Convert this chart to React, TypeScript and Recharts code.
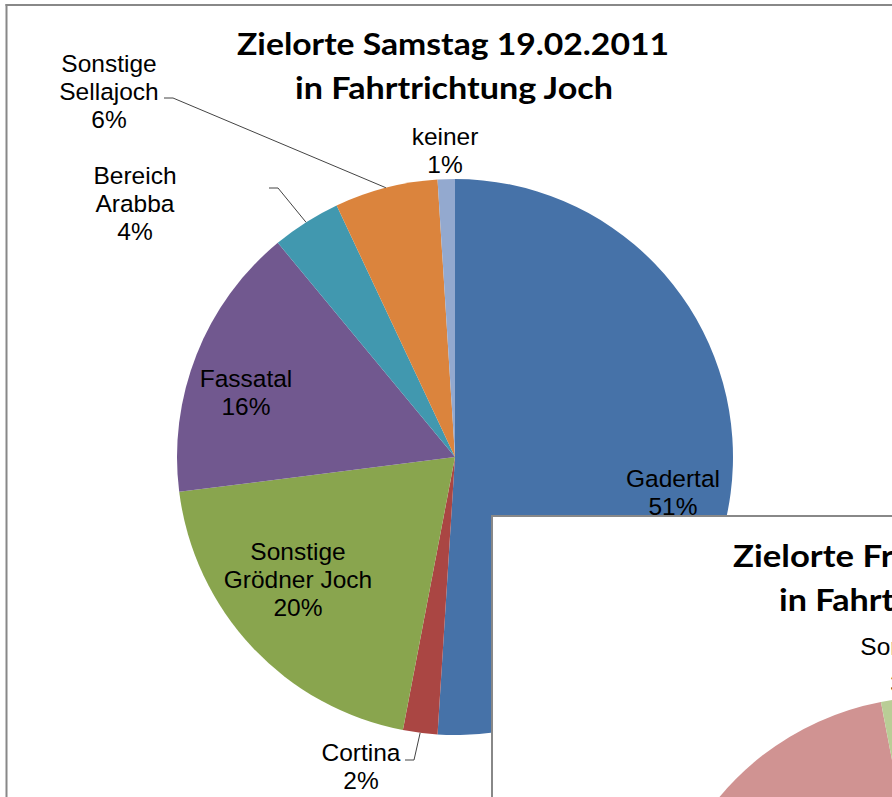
import { PieChart, Pie, Cell } from 'recharts';

// Samstag 19.02.2011, clockwise from 12 o'clock
const samstagNames = ['Gadertal', 'Cortina', 'Sonstige\nGrödner Joch', 'Fassatal', 'Bereich\nArabba', 'Sonstige\nSellajoch', 'keiner'];
const samstagShares = [51, 2, 20, 16, 4, 6, 1];

// Freitag chart (mostly hidden behind the edge of the picture)
const freitagNames = ['weitere', 'weitere 2', 'Sonstige'];
const freitagShares = [82, 15, 3];

const samstagColors = ['#4672A8', '#AA4643', '#89A54E', '#71588F', '#4198AF', '#DB843D', '#93A9CF'];
const freitagColors = ['#4672A8', '#D09392', '#B9CD96'];

// label block centre relative to pie centre, optional leader start (relative too)
const samstagLabelPos: Record<string, { dx: number; dy: number; lead?: [number, number] }> = {
  'Gadertal': { dx: 218, dy: 35 },
  'Cortina': { dx: -94, dy: 309, lead: [-50, 303] },
  'Sonstige\nGrödner Joch': { dx: -157, dy: 122 },
  'Fassatal': { dx: -209, dy: -65 },
  'Bereich\nArabba': { dx: -320, dy: -254, lead: [-186, -269] },
  'Sonstige\nSellajoch': { dx: -346, dy: -366, lead: [-291, -359] },
  'keiner': { dx: -10, dy: -307 },
};
const freitagLabelPos: Record<string, { dx: number; dy: number; lead?: [number, number] }> = {
  'Sonstige': { dx: -25, dy: -310 },
};

const RAD = Math.PI / 180;
const LABEL_FONT = '"Liberation Sans", Arial, sans-serif';
const TITLE_FONT = 'Lato, "Open Sans", sans-serif';
// PieChart adds its default 5px margin to numeric cx / cy
const M = 5;

const samstagData = samstagNames.map((n, i) => ({ name: n, value: samstagShares[i] }));
const freitagData = freitagNames.map((n, i) => ({ name: n, value: freitagShares[i] }));

function makeLabel(layout: Record<string, { dx: number; dy: number; lead?: [number, number] }>, lineGap: number) {
  return (props: any) => {
    const { cx, cy, midAngle, outerRadius, name, value } = props;
    const pos = layout[name];
    if (!pos) return null;
    const lines = [...String(name).split('\n'), `${value}%`];
    const x = cx + pos.dx;
    const top = cy + pos.dy - ((lines.length - 1) * lineGap) / 2;
    let leader = null;
    if (pos.lead) {
      const ex = cx + outerRadius * Math.cos(-midAngle * RAD);
      const ey = cy + outerRadius * Math.sin(-midAngle * RAD);
      const sx = cx + pos.lead[0];
      const sy = cy + pos.lead[1];
      leader = (
        <polyline
          points={`${sx},${sy} ${sx + 9},${sy} ${ex},${ey}`}
          fill="none"
          stroke="#444"
          strokeWidth={1}
        />
      );
    }
    return (
      <g>
        {leader}
        {lines.map((l, i) => (
          <text
            key={i}
            x={x}
            y={top + i * lineGap}
            textAnchor="middle"
            dominantBaseline="central"
            fontFamily={LABEL_FONT}
            fontSize={24.5}
            fill="#000"
          >
            {l}
          </text>
        ))}
      </g>
    );
  };
}

export default function App() {
  return (
    <div style={{ position: 'fixed', left: 0, top: 0, width: 892, height: 797, overflow: 'hidden', background: '#fff' }}>
      <svg width={892} height={797} style={{ position: 'absolute', left: 0, top: 0 }}>
        <line x1={5.5} y1={5} x2={892} y2={5} stroke="#888" strokeWidth={2} />
        <line x1={6.5} y1={4} x2={6.5} y2={797} stroke="#888" strokeWidth={2} />
      </svg>
      <div style={{ position: 'absolute', left: 0, top: 0 }}>
        <PieChart width={892} height={797}>
          <Pie
            data={samstagData}
            dataKey="value"
            nameKey="name"
            cx={455 - M}
            cy={457 - M}
            outerRadius={278}
            startAngle={90}
            endAngle={-270}
            stroke="none"
            labelLine={false}
            label={makeLabel(samstagLabelPos, 28)}
            isAnimationActive={false}
          >
            {samstagData.map((d, i) => (
              <Cell key={d.name} fill={samstagColors[i]} stroke="none" />
            ))}
          </Pie>
        </PieChart>
      </div>
      <svg width={892} height={140} style={{ position: 'absolute', left: 0, top: 0, pointerEvents: 'none' }}>
        <text x={453} y={55} textAnchor="middle" fontFamily={TITLE_FONT} fontWeight="bold" fontSize={30} textLength={432} lengthAdjust="spacingAndGlyphs">
          Zielorte Samstag 19.02.2011
        </text>
        <text x={454} y={99} textAnchor="middle" fontFamily={TITLE_FONT} fontWeight="bold" fontSize={30} textLength={318} lengthAdjust="spacingAndGlyphs">
          in Fahrtrichtung Joch
        </text>
      </svg>

      <div style={{ position: 'absolute', left: 491, top: 515, width: 401, height: 282, overflow: 'hidden', background: '#fff' }}>
        <div style={{ position: 'absolute', left: 0, top: 0 }}>
          <PieChart width={800} height={800}>
            <Pie
              data={freitagData}
              dataKey="value"
              nameKey="name"
              cx={442 - M}
              cy={460 - M}
              outerRadius={278}
              startAngle={90}
              endAngle={-270}
              stroke="none"
              labelLine={false}
              label={makeLabel(freitagLabelPos, 37)}
              isAnimationActive={false}
            >
              {freitagData.map((d, i) => (
                <Cell key={d.name} fill={freitagColors[i]} stroke="none" />
              ))}
            </Pie>
          </PieChart>
        </div>
        <svg width={401} height={282} style={{ position: 'absolute', left: 0, top: 0, pointerEvents: 'none' }}>
          <line x1={0} y1={1} x2={401} y2={1} stroke="#888" strokeWidth={2} />
          <line x1={1} y1={0} x2={1} y2={282} stroke="#888" strokeWidth={2} />
          <text x={242} y={52} fontFamily={TITLE_FONT} fontWeight="bold" fontSize={30} textLength={422} lengthAdjust="spacingAndGlyphs">
            Zielorte Freitag 18.02.2011
          </text>
          <text x={288} y={96} fontFamily={TITLE_FONT} fontWeight="bold" fontSize={30} textLength={318} lengthAdjust="spacingAndGlyphs">
            in Fahrtrichtung Joch
          </text>
        </svg>
      </div>
    </div>
  );
}
